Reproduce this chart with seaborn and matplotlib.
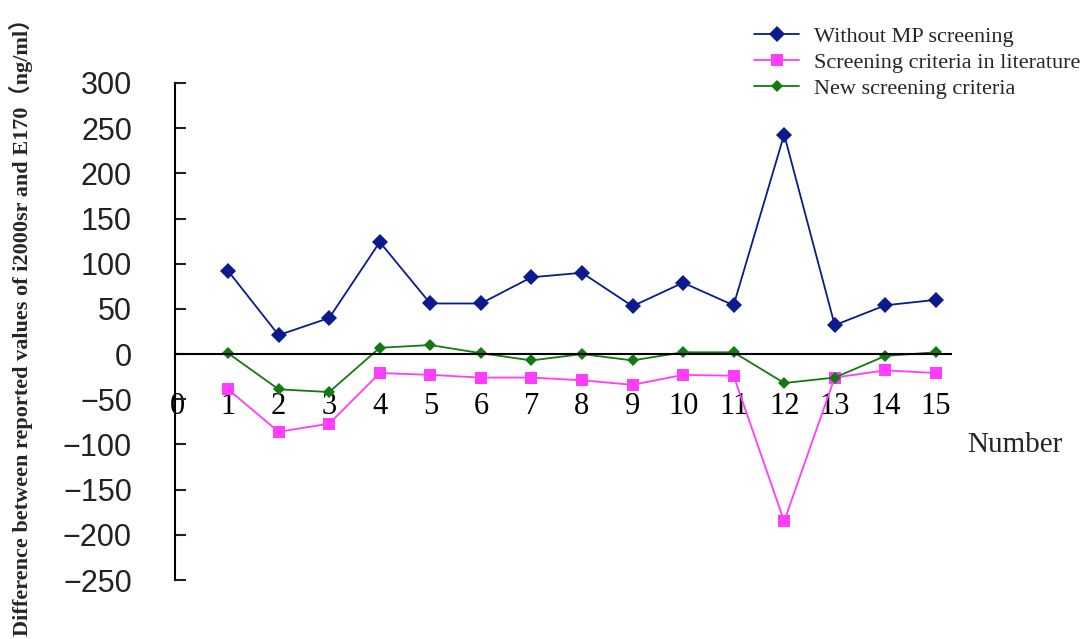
import numpy as np
import pandas as pd
import seaborn as sns
import matplotlib
matplotlib.use("Agg")
import matplotlib.pyplot as plt

# Sample numbers and differences (ng/ml) for each screening approach
numbers = list(range(1, 16))
without_mp = [92, 21, 40, 124, 56, 56, 85, 90, 53, 79, 54, 243, 32, 54, 60]
literature = [-39, -86, -77, -21, -23, -26, -26, -29, -34, -23, -24, -185, -26, -18, -21]
new_criteria = [1, -39, -42, 7, 10, 1, -7, 0, -7, 2, 2, -32, -26, -2, 2]

series_names = ["Without MP screening", "Screening criteria in literature", "New screening criteria"]
x_ticks = list(range(0, 16))
y_ticks = list(range(-250, 301, 50))

df = pd.DataFrame({
    "Number": numbers * 3,
    "Diff": without_mp + literature + new_criteria,
    "Series": [series_names[0]] * 15 + [series_names[1]] * 15 + [series_names[2]] * 15,
})

sns.set_style("white")
plt.rcParams["font.family"] = ["Liberation Serif", "Noto Sans CJK SC"]

fig = plt.figure(figsize=(10.81, 6.39), dpi=100)
ax = fig.add_axes([175 / 1081, 1 - 580 / 639, (951 - 175) / 1081, (580 - 83) / 639])

palette = {series_names[0]: "#0b1a8c", series_names[1]: "#ff3cff", series_names[2]: "#137a13"}
markers = {series_names[0]: "D", series_names[1]: "s", series_names[2]: "D"}
sizes_map = {series_names[0]: 8, series_names[1]: 8, series_names[2]: 6}

for name in series_names:
    sub = df[df["Series"] == name]
    sns.lineplot(data=sub, x="Number", y="Diff", ax=ax, color=palette[name],
                 marker=markers[name], markersize=sizes_map[name],
                 markeredgewidth=0, linewidth=1.3, label=name)

ax.set_xlim(-0.05, 15.3)
ax.set_ylim(-250, 300)

# Axis lines: left spine and a horizontal axis through zero
for s in ["top", "right"]:
    ax.spines[s].set_visible(False)
ax.spines["bottom"].set_position(("data", 0))
ax.spines["bottom"].set_color("black")
ax.spines["bottom"].set_linewidth(1.5)
ax.spines["left"].set_color("black")
ax.spines["left"].set_linewidth(1.5)
ax.set_zorder(1)

ax.set_xticks(x_ticks)
ax.set_xticklabels([str(v) for v in x_ticks])
ax.tick_params(axis="x", direction="in", length=7, width=1, pad=27,
               labelsize=22, colors="black")
ax.set_yticks(y_ticks)
ax.set_yticklabels([str(v).replace("-", "\u2212") for v in y_ticks], family="Liberation Sans")
ax.tick_params(axis="y", direction="in", length=8, width=1.5, pad=31,
               labelsize=22, colors="#222222", left=True)
ax.grid(False)

ax.set_xlabel("")
ax.set_ylabel("Difference between reported values of i2000sr and E170（ng/ml）",
              fontsize=16, fontweight="bold")
ax.yaxis.set_label_coords(-0.183, 0.52)

fig.text(1015 / 1081, 1 - 445 / 639, "Number", fontsize=21, ha="center", va="center")

leg = ax.legend(loc="upper left", bbox_to_anchor=(750 / 1081, 1 - 22 / 639),
                bbox_transform=fig.transFigure, frameon=False, fontsize=16,
                handlelength=2.0, handletextpad=0.7, labelspacing=0.25,
                borderaxespad=0, borderpad=0.2)

fig.savefig("out.png", dpi=100)
